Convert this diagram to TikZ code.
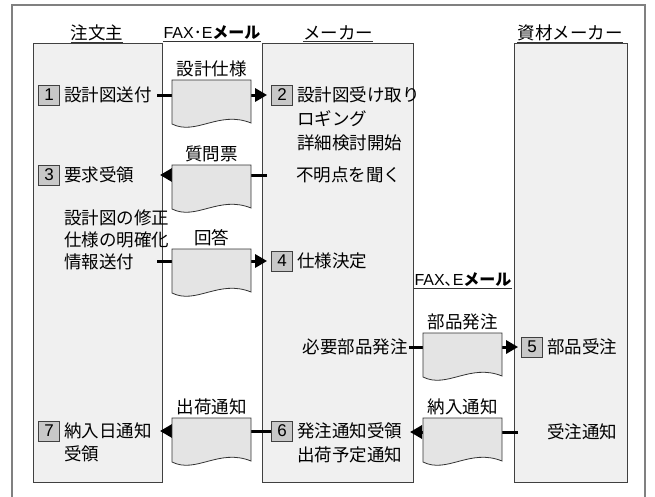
\documentclass[tikz,border=0pt]{standalone}
\usepackage{fontspec}
\setmainfont{Noto Sans CJK JP}
\newfontfamily\lat{Liberation Sans}
\usetikzlibrary{arrows.meta}
\definecolor{colf}{HTML}{F0F0F0}
\definecolor{colb}{HTML}{404040}
\definecolor{docf}{HTML}{E4E4E4}
\definecolor{numf}{HTML}{C8C8C8}
\definecolor{framec}{HTML}{808080}
\tikzset{
  col/.style={draw=colb,fill=colf,line width=0.9pt,inner sep=0pt,anchor=north west},
  hdr/.style={inner sep=0pt,font=\fontsize{17.5}{20}\selectfont},
  hdrs/.style={inner sep=0pt,font=\fontsize{16}{20}\selectfont},
  ul/.style={line width=0.8pt,draw=black!80},
  txt/.style={inner sep=1pt,anchor=west,font=\fontsize{17.5}{20}\selectfont},
  numbox/.style={draw=black!75,fill=numf,line width=0.8pt,minimum width=21pt,minimum height=20pt,inner sep=0pt,font=\lat\fontsize{17}{17}\selectfont},
  docst/.style={draw=black!80,fill=docf,line width=0.8pt},
  lbl/.style={inner sep=0pt,font=\fontsize{17.5}{20}\selectfont},
  conn/.style={line width=3pt,black},
  arr/.style={conn,-{Triangle[length=12pt,width=13pt]}}
}
\newcommand\docu[4]{%
  \begin{scope}[shift={(#2,#3)}]
    \draw[docst] (0,0) -- (79,0) -- (79,43) .. controls (47,30) and (24,56) .. (0,44) -- cycle;
    \node[lbl] (#1-l) at (39.5,-11) {#4};
    \coordinate (#1) at (39.5,22);
  \end{scope}}
\begin{document}
\begin{tikzpicture}[x=1pt,y=-1pt]
\useasboundingbox (0,0) rectangle (655,496);
\clip (0,0) rectangle (655,496);
\draw[draw=framec,line width=1.2pt] (12,5) rectangle (645,510);
% columns
\node[col,minimum width=129pt,minimum height=439pt] (c1) at (33,43) {};
\node[col,minimum width=151pt,minimum height=439pt] (c2) at (262,43) {};
\node[col,minimum width=113pt,minimum height=439pt] (c3) at (514,43) {};
% headers
\node[hdr] (h1) at (97,33) {注文主};
\node[hdrs] (h2) at (212,33) {{\lat FAX}･{\lat E}\textbf{メール}};
\node[hdr] (h3) at (338,33) {メーカー};
\node[hdr] (h4) at (570,33) {資材メーカー};
\node[hdrs] (h5) at (463,280) {{\lat FAX}､{\lat E}\textbf{メール}};
\foreach \h in {h1,h2,h3,h4,h5}
  \draw[ul] ([yshift=-1.5pt]\h.south west) -- ([yshift=-1.5pt]\h.south east);
% number boxes
\node[numbox] (n1) at (49,95) {1};
\node[numbox] (n2) at (282,95) {2};
\node[numbox] (n3) at (49,175) {3};
\node[numbox] (n4) at (282,261) {4};
\node[numbox] (n5) at (532,347) {5};
\node[numbox] (n6) at (282,431) {6};
\node[numbox] (n7) at (49,431) {7};
% texts
\node[txt] (t1) at (63,95) {設計図送付};
\node[txt] (t2) at (296,95) {設計図受け取り};
\node[txt] (t2b) at (296,119) {ロギング};
\node[txt] (t2c) at (296,143) {詳細検討開始};
\node[txt] (t3) at (63,175) {要求受領};
\node[txt] (t3r) at (295,175) {不明点を聞く};
\node[txt] (t4a) at (63,218) {設計図の修正};
\node[txt] (t4b) at (63,240) {仕様の明確化};
\node[txt] (t4c) at (63,262) {情報送付};
\node[txt] (t4) at (296,261) {仕様決定};
\node[txt,anchor=east] (t5a) at (409,347) {必要部品発注};
\node[txt] (t5) at (546,347) {部品受注};
\node[txt] (t6r) at (546,432) {受注通知};
\node[txt] (t6) at (296,431) {発注通知受領};
\node[txt] (t6b) at (296,455) {出荷予定通知};
\node[txt] (t7) at (63,431) {納入日通知};
\node[txt] (t7b) at (63,454) {受領};
% connector end points
\coordinate (a1) at (157,95);
\coordinate (s3) at (267,175);
\coordinate (e3) at (160,175);
\coordinate (a4) at (157,261);
\coordinate (s6) at (518,432);
\coordinate (e6) at (410,432);
\coordinate (e7) at (160,431);
% connectors
\draw[arr] (a1) -- ([xshift=-4pt]n2.west);
\draw[arr] (s3) -- (e3);
\draw[arr] (a4) -- ([xshift=-4pt]n4.west);
\draw[arr] (t5a.east) -- ([xshift=-3pt]n5.west);
\draw[arr] (s6) -- (e6);
\draw[arr] (n6.west) -- (e7);
% documents
\docu{d1}{172}{80}{設計仕様}
\docu{d2}{172}{165}{質問票}
\docu{d3}{172}{249}{回答}
\docu{d4}{423}{333}{部品発注}
\docu{d5}{423}{418}{納入通知}
\docu{d6}{172}{418}{出荷通知}
\end{tikzpicture}
\end{document}
